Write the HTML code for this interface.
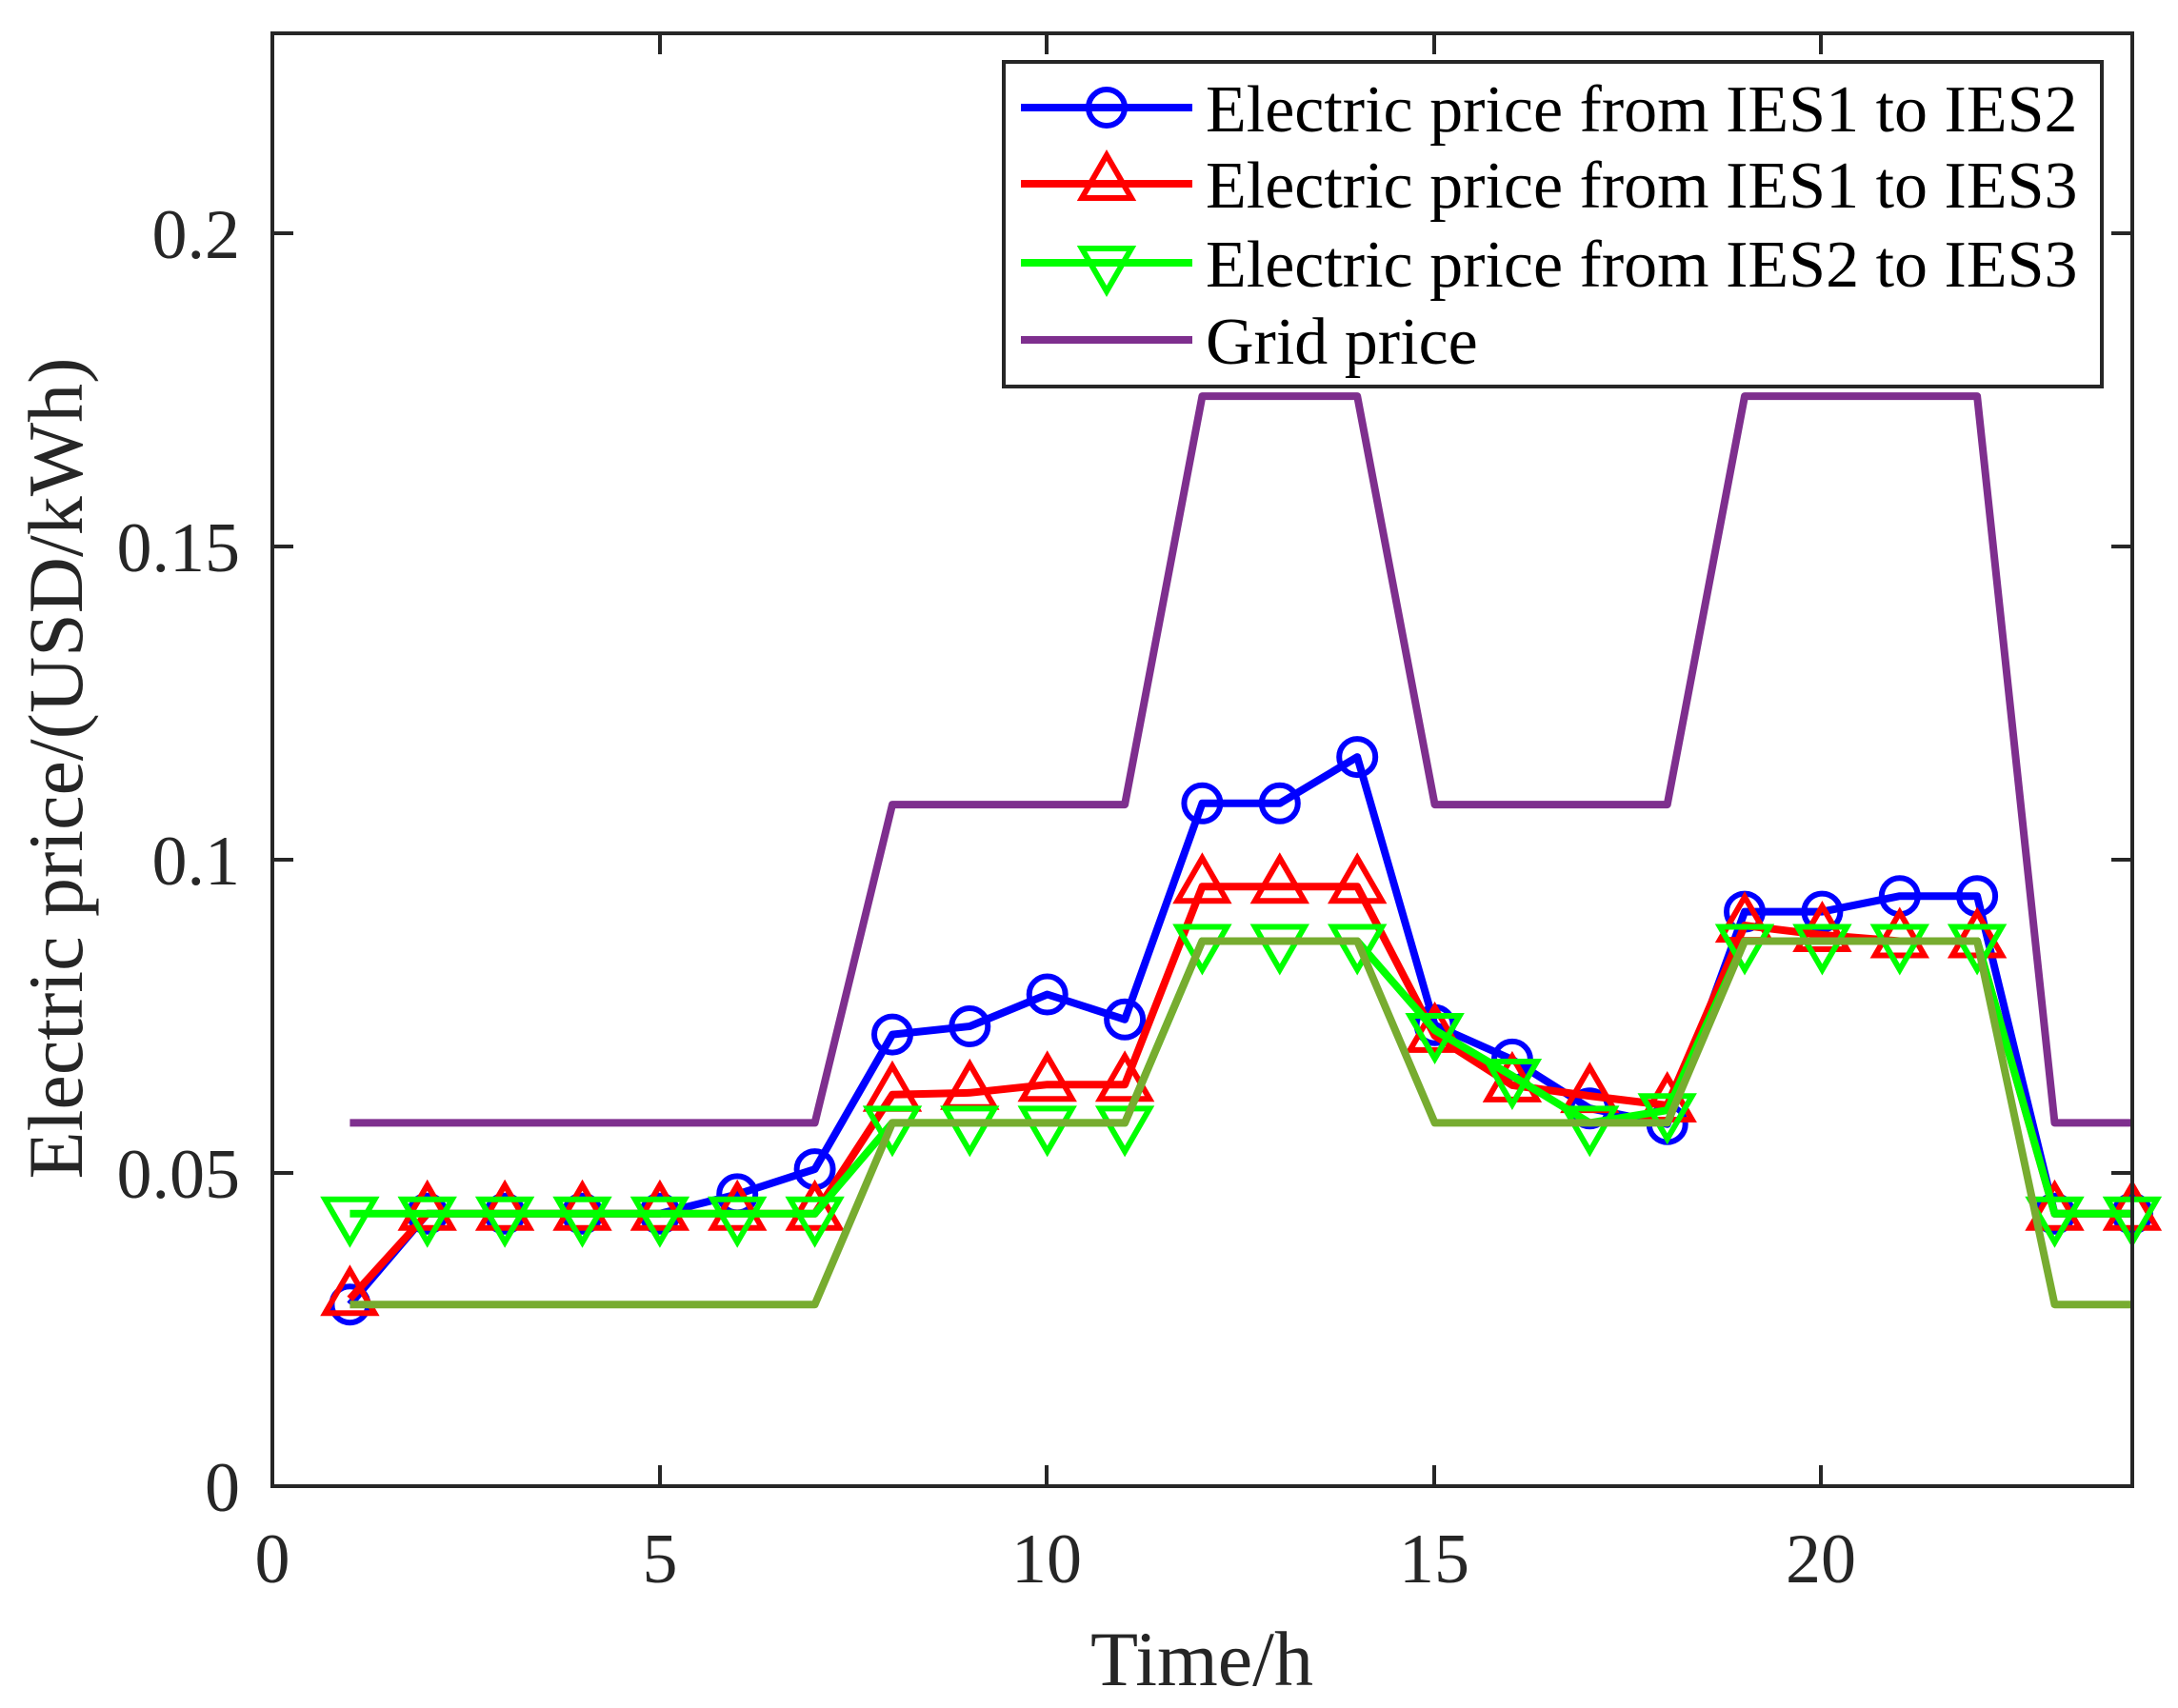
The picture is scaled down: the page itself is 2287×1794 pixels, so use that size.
<!DOCTYPE html>
<html><head><style>body{margin:0;background:#fff}</style></head><body>
<svg width="2287" height="1789" xmlns="http://www.w3.org/2000/svg" xmlns:xlink="http://www.w3.org/1999/xlink" font-family="Liberation Serif, serif" fill="#262626">
<defs>
<circle id="c" cx="0" cy="0" r="19" fill="none" stroke="#0000ff" stroke-width="6"/>
<path id="u" d="M0 -30l26 45h-52z" fill="none" stroke="#ff0000" stroke-width="6"/>
<path id="d" d="M0 30l26 -45h-52z" fill="none" stroke="#00ff00" stroke-width="6"/>
</defs>
<rect width="2287" height="1789" fill="#fff"/>
<g fill="none" stroke-width="8" stroke-linejoin="round">
<polyline stroke="#7e2f8e" points="367.4,1179.4 855.6,1179.4 937,845.1 1181.1,845.1 1262.4,416.1 1425.2,416.1 1506.6,845.1 1750.7,845.1 1832,416.1 2076.1,416.1 2157.5,1179.4 2238.9,1179.4"/>
<polyline stroke="#0000ff" points="367.4,1370.2 448.7,1274.8 530.1,1274.8 611.5,1274.8 692.9,1274.8 774.2,1254.4 855.6,1228.1 937,1086.6 1018.3,1078 1099.7,1044.5 1181.1,1070.8 1262.4,843.8 1343.8,843.8 1425.2,795.1 1506.6,1076.7 1587.9,1112.9 1669.3,1164.2 1750.7,1180.7 1832,957.6 1913.4,957.6 1994.8,941.2 2076.1,941.2 2157.5,1274.8 2238.9,1274.8"/>
</g>
<g>
<use xlink:href="#c" x="367.4" y="1370.2"/><use xlink:href="#c" x="448.7" y="1274.8"/><use xlink:href="#c" x="530.1" y="1274.8"/><use xlink:href="#c" x="611.5" y="1274.8"/><use xlink:href="#c" x="692.9" y="1274.8"/><use xlink:href="#c" x="774.2" y="1254.4"/><use xlink:href="#c" x="855.6" y="1228.1"/><use xlink:href="#c" x="937" y="1086.6"/><use xlink:href="#c" x="1018.3" y="1078"/><use xlink:href="#c" x="1099.7" y="1044.5"/><use xlink:href="#c" x="1181.1" y="1070.8"/><use xlink:href="#c" x="1262.4" y="843.8"/><use xlink:href="#c" x="1343.8" y="843.8"/><use xlink:href="#c" x="1425.2" y="795.1"/><use xlink:href="#c" x="1506.6" y="1076.7"/><use xlink:href="#c" x="1587.9" y="1112.9"/><use xlink:href="#c" x="1669.3" y="1164.2"/><use xlink:href="#c" x="1750.7" y="1180.7"/><use xlink:href="#c" x="1832" y="957.6"/><use xlink:href="#c" x="1913.4" y="957.6"/><use xlink:href="#c" x="1994.8" y="941.2"/><use xlink:href="#c" x="2076.1" y="941.2"/><use xlink:href="#c" x="2157.5" y="1274.8"/><use xlink:href="#c" x="2238.9" y="1274.8"/>
</g>
<polyline fill="none" stroke-width="8" stroke-linejoin="round" stroke="#ff0000" points="367.4,1364.3 448.7,1274.8 530.1,1274.8 611.5,1274.8 692.9,1274.8 774.2,1274.8 855.6,1274.8 937,1149.8 1018.3,1147.8 1099.7,1139.2 1181.1,1139.2 1262.4,931.3 1343.8,931.3 1425.2,931.3 1506.6,1087.9 1587.9,1139.9 1669.3,1151.1 1750.7,1161 1832,972.1 1913.4,982 1994.8,988.5 2076.1,988.5 2157.5,1274.8 2238.9,1274.8"/>
<g>
<use xlink:href="#u" x="367.4" y="1364.3"/><use xlink:href="#u" x="448.7" y="1274.8"/><use xlink:href="#u" x="530.1" y="1274.8"/><use xlink:href="#u" x="611.5" y="1274.8"/><use xlink:href="#u" x="692.9" y="1274.8"/><use xlink:href="#u" x="774.2" y="1274.8"/><use xlink:href="#u" x="855.6" y="1274.8"/><use xlink:href="#u" x="937" y="1149.8"/><use xlink:href="#u" x="1018.3" y="1147.8"/><use xlink:href="#u" x="1099.7" y="1139.2"/><use xlink:href="#u" x="1181.1" y="1139.2"/><use xlink:href="#u" x="1262.4" y="931.3"/><use xlink:href="#u" x="1343.8" y="931.3"/><use xlink:href="#u" x="1425.2" y="931.3"/><use xlink:href="#u" x="1506.6" y="1087.9"/><use xlink:href="#u" x="1587.9" y="1139.9"/><use xlink:href="#u" x="1669.3" y="1151.1"/><use xlink:href="#u" x="1750.7" y="1161"/><use xlink:href="#u" x="1832" y="972.1"/><use xlink:href="#u" x="1913.4" y="982"/><use xlink:href="#u" x="1994.8" y="988.5"/><use xlink:href="#u" x="2076.1" y="988.5"/><use xlink:href="#u" x="2157.5" y="1274.8"/><use xlink:href="#u" x="2238.9" y="1274.8"/>
</g>
<polyline fill="none" stroke-width="8" stroke-linejoin="round" stroke="#00ff00" points="367.4,1274.8 448.7,1274.8 530.1,1274.8 611.5,1274.8 692.9,1274.8 774.2,1274.8 855.6,1274.8 937,1179.4 1018.3,1179.4 1099.7,1179.4 1181.1,1179.4 1262.4,988.5 1343.8,988.5 1425.2,988.5 1506.6,1082 1587.9,1130 1669.3,1179.4 1750.7,1166.2 1832,988.5 1913.4,988.5 1994.8,988.5 2076.1,988.5 2157.5,1274.8 2238.9,1274.8"/>
<g>
<use xlink:href="#d" x="367.4" y="1274.8"/><use xlink:href="#d" x="448.7" y="1274.8"/><use xlink:href="#d" x="530.1" y="1274.8"/><use xlink:href="#d" x="611.5" y="1274.8"/><use xlink:href="#d" x="692.9" y="1274.8"/><use xlink:href="#d" x="774.2" y="1274.8"/><use xlink:href="#d" x="855.6" y="1274.8"/><use xlink:href="#d" x="937" y="1179.4"/><use xlink:href="#d" x="1018.3" y="1179.4"/><use xlink:href="#d" x="1099.7" y="1179.4"/><use xlink:href="#d" x="1181.1" y="1179.4"/><use xlink:href="#d" x="1262.4" y="988.5"/><use xlink:href="#d" x="1343.8" y="988.5"/><use xlink:href="#d" x="1425.2" y="988.5"/><use xlink:href="#d" x="1506.6" y="1082"/><use xlink:href="#d" x="1587.9" y="1130"/><use xlink:href="#d" x="1669.3" y="1179.4"/><use xlink:href="#d" x="1750.7" y="1166.2"/><use xlink:href="#d" x="1832" y="988.5"/><use xlink:href="#d" x="1913.4" y="988.5"/><use xlink:href="#d" x="1994.8" y="988.5"/><use xlink:href="#d" x="2076.1" y="988.5"/><use xlink:href="#d" x="2157.5" y="1274.8"/><use xlink:href="#d" x="2238.9" y="1274.8"/>
</g>
<polyline fill="none" stroke-width="8" stroke-linejoin="round" stroke="#77ac30" points="367.4,1370.2 855.6,1370.2 937,1179.4 1181.1,1179.4 1262.4,988.5 1425.2,988.5 1506.6,1179.4 1750.7,1179.4 1832,988.5 2076.1,988.5 2157.5,1370.2 2238.9,1370.2"/>
<g stroke="#262626" stroke-width="4" fill="none">
<rect x="286" y="35" width="1953" height="1526"/>
<path d="M693 1561v-22M1099 1561v-22M1506 1561v-22M1912 1561v-22M693 35v22M1099 35v22M1506 35v22M1912 35v22
M286 1232h22M286 903h22M286 574h22M286 245h22M2239 1232h-22M2239 903h-22M2239 574h-22M2239 245h-22"/>
</g>
<g font-size="74" text-anchor="middle">
<text x="286" y="1662">0</text><text x="693" y="1662">5</text><text x="1099" y="1662">10</text><text x="1506" y="1662">15</text><text x="1912" y="1662">20</text>
</g>
<g font-size="74" text-anchor="end">
<text x="252" y="1587">0</text><text x="252" y="1258">0.05</text><text x="252" y="929">0.1</text><text x="252" y="600">0.15</text><text x="252" y="271">0.2</text>
</g>
<text x="1262" y="1770" font-size="82" text-anchor="middle">Time/h</text>
<text transform="translate(86,807) rotate(-90)" font-size="82" text-anchor="middle">Electric price/(USD/kWh)</text>
<rect x="1054" y="65" width="1153" height="341" fill="#fff" stroke="#262626" stroke-width="4"/>
<path d="M1072 113h180" stroke="#0000ff" stroke-width="8"/>
<use xlink:href="#c" x="1162" y="113"/>
<path d="M1072 193h180" stroke="#ff0000" stroke-width="8"/>
<use xlink:href="#u" x="1162" y="193"/>
<path d="M1072 276h180" stroke="#00ff00" stroke-width="8"/>
<use xlink:href="#d" x="1162" y="276"/>
<path d="M1072 357h180" stroke="#7e2f8e" stroke-width="8"/>
<g font-size="70" fill="#000">
<text x="1266" y="138">Electric price from IES1 to IES2</text>
<text x="1266" y="218">Electric price from IES1 to IES3</text>
<text x="1266" y="301">Electric price from IES2 to IES3</text>
<text x="1266" y="382">Grid price</text>
</g>
</svg>
</body></html>
